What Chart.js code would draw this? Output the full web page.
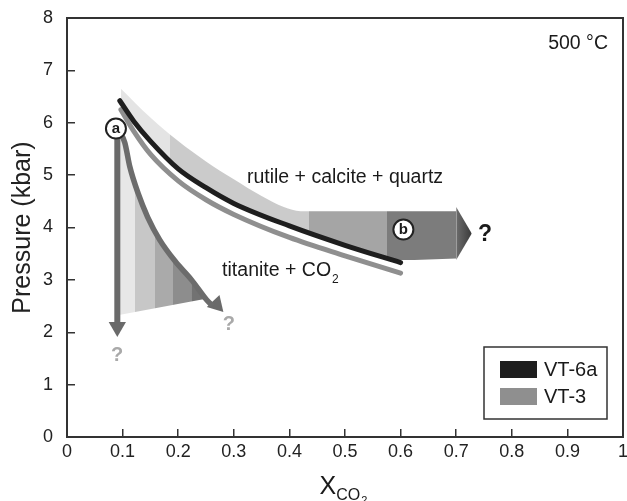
<!DOCTYPE html>
<html>
<head>
<meta charset="utf-8">
<script src="https://cdn.jsdelivr.net/npm/chart.js@4.4.1/dist/chart.umd.min.js"></script>
<style>
html,body{margin:0;padding:0;background:#fff;}
#wrap{width:627px;height:501px;position:relative;}
</style>
</head>
<body>
<div id="wrap"><canvas id="c" width="627" height="501"></canvas></div>
<script>
// ---------- data ----------
const xTicks = [0, 0.1, 0.2, 0.3, 0.4, 0.5, 0.6, 0.7, 0.8, 0.9, 1];
const xTickLabels = ['0', '0.1', '0.2', '0.3', '0.4', '0.5', '0.6', '0.7', '0.8', '0.9', '1'];
const yTicks = [0, 1, 2, 3, 4, 5, 6, 7, 8];
const yTickLabels = ['0', '1', '2', '3', '4', '5', '6', '7', '8'];

const seriesNames = ['VT-6a', 'VT-3'];
const vt6aX = [0.095, 0.12, 0.15, 0.2, 0.25, 0.3, 0.4, 0.5, 0.6];
const vt6aY = [6.42, 6.03, 5.65, 5.12, 4.76, 4.46, 4.03, 3.66, 3.33];
const vt3X = [0.097, 0.12, 0.15, 0.2, 0.25, 0.3, 0.4, 0.5, 0.6];
const vt3Y = [6.25, 5.84, 5.40, 4.89, 4.53, 4.25, 3.81, 3.46, 3.13];

// reaction arrow (a) -> titanite + CO2
const arrowCurveX = [0.094, 0.104, 0.113, 0.128, 0.145, 0.167, 0.195, 0.224, 0.251, 0.262];
const arrowCurveY = [5.85, 5.62, 5.16, 4.65, 4.20, 3.76, 3.35, 3.00, 2.62, 2.50];
// vertical arrow from (a)
const shaftX = [0.0905, 0.0905];
const shaftY = [5.85, 2.15];
// arrow head centres
const headX = [0.0905, 0.269];
const headY = [2.10, 2.527];
// striped field under the curved arrow (lower edge)
const fieldBottomX = [0.093, 0.245];
const fieldBottomY = [2.33, 2.63];
const fieldStripeX = [0.093, 0.122, 0.158, 0.191, 0.224, 0.262];

// broad band along the curve -> horizontal arrow to (b)
const bandTopX = [0.097, 0.15, 0.2, 0.25, 0.3, 0.35, 0.39, 0.42, 0.70];
const bandTopY = [6.65, 6.10, 5.65, 5.26, 4.92, 4.60, 4.39, 4.31, 4.31];
const bandBottomX = [0.095, 0.12, 0.15, 0.2, 0.25, 0.3, 0.4, 0.5, 0.6, 0.70];
const bandBottomY = [6.42, 6.03, 5.65, 5.12, 4.76, 4.46, 4.03, 3.66, 3.38, 3.41];
const bandStopX = [0.095, 0.185, 0.435, 0.575, 0.70];
const bigHeadX = [0.70, 0.728];
const bigHeadTopY = [4.39, 3.885];
const bigHeadBottomY = [3.38, 3.885];

// circled points
const markerX = [0.088, 0.605];
const markerY = [5.89, 3.96];
const markerLabels = ['a', 'b'];

// text labels
const noteTexts = ['rutile + calcite + quartz', 'titanite + CO', '500 °C'];
const noteSubs = ['', '2', ''];
const noteX = [0.5, 0.279, 0.973];
const noteY = [4.96, 3.17, 7.52];
const questionX = [0.09, 0.291, 0.752];
const questionY = [1.56, 2.14, 3.87];

// ---------- rendering ----------
const FONT = "'Liberation Sans', Arial, Helvetica, sans-serif";
Chart.defaults.font.family = FONT;
Chart.defaults.color = '#222';

const pts = (xs, ys) => xs.map((x, i) => ({x, y: ys[i]}));

function stripeFill(stops, colors) {
  return (c) => {
    const ch = c.chart;
    const sx = ch.scales && ch.scales.x;
    if (!ch.chartArea || !sx) return colors[0];
    const p0 = sx.getPixelForValue(stops[0]);
    const p1 = sx.getPixelForValue(stops[stops.length - 1]);
    const g = ch.ctx.createLinearGradient(p0, 0, p1, 0);
    for (let i = 0; i < colors.length; i++) {
      const a = (sx.getPixelForValue(stops[i]) - p0) / (p1 - p0);
      const b = (sx.getPixelForValue(stops[i + 1]) - p0) / (p1 - p0);
      g.addColorStop(Math.max(0, Math.min(1, a)), colors[i]);
      g.addColorStop(Math.max(0, Math.min(1, b - 0.0005)), colors[i]);
    }
    return g;
  };
}
function headFill(c) {
  const ch = c.chart;
  const sx = ch.scales && ch.scales.x;
  if (!ch.chartArea || !sx) return '#606060';
  const g = ch.ctx.createLinearGradient(sx.getPixelForValue(bigHeadX[0]), 0, sx.getPixelForValue(bigHeadX[1]), 0);
  g.addColorStop(0, '#6c6c6c');
  g.addColorStop(1, '#3a3a3a');
  return g;
}

const hidden = {borderWidth: 0, pointRadius: 0, fill: false, borderColor: 'rgba(0,0,0,0)'};

const datasets = [
  { // 0 circled markers
    label: 'markers', data: pts(markerX, markerY), showLine: false, order: 0,
    pointRadius: 10, pointBackgroundColor: '#ffffff', pointBorderColor: '#222', pointBorderWidth: 2
  },
  { // 1 VT-6a
    label: seriesNames[0], data: pts(vt6aX, vt6aY), order: 2,
    borderColor: '#1e1e1e', backgroundColor: '#1e1e1e', borderWidth: 5, pointRadius: 0,
    cubicInterpolationMode: 'monotone', borderCapStyle: 'round'
  },
  { // 2 VT-3
    label: seriesNames[1], data: pts(vt3X, vt3Y), order: 3,
    borderColor: '#8f8f8f', backgroundColor: '#8f8f8f', borderWidth: 5, pointRadius: 0,
    cubicInterpolationMode: 'monotone', borderCapStyle: 'round'
  },
  { // 3 curved arrow
    label: 'arrow', data: pts(arrowCurveX, arrowCurveY), order: 4,
    borderColor: '#6c6c6c', borderWidth: 5.5, pointRadius: 0, cubicInterpolationMode: 'monotone'
  },
  { // 4 vertical shaft
    label: 'shaft', data: pts(shaftX, shaftY), order: 4,
    borderColor: '#6a6a6a', borderWidth: 6, pointRadius: 0
  },
  { // 5 arrow heads
    label: 'heads', data: pts(headX, headY), showLine: false, order: 4,
    pointStyle: 'triangle', pointRadius: 10, pointRotation: [180, 137],
    pointBackgroundColor: '#6a6a6a', pointBorderWidth: 0
  },
  { // 6 striped field (fills up to the curved arrow)
    label: 'field', data: pts(fieldBottomX, fieldBottomY), order: 7,
    borderWidth: 0, pointRadius: 0, borderColor: 'rgba(0,0,0,0)',
    fill: 3, backgroundColor: stripeFill(fieldStripeX, ['#e7e7e7', '#c7c7c7', '#aaaaaa', '#8d8d8d', '#727272'])
  },
  { // 7 big head top
    label: 'headTop', data: pts(bigHeadX, bigHeadTopY), order: 8,
    borderWidth: 0, pointRadius: 0, borderColor: 'rgba(0,0,0,0)',
    fill: 8, backgroundColor: headFill
  },
  Object.assign({label: 'headBottom', data: pts(bigHeadX, bigHeadBottomY), order: 9}, hidden),
  { // 9 band top
    label: 'bandTop', data: pts(bandTopX, bandTopY), order: 10,
    borderWidth: 0, pointRadius: 0, borderColor: 'rgba(0,0,0,0)', cubicInterpolationMode: 'monotone',
    fill: 10, backgroundColor: stripeFill(bandStopX, ['#e4e4e4', '#cbcbcb', '#a5a5a5', '#7c7c7c'])
  },
  Object.assign({label: 'bandBottom', data: pts(bandBottomX, bandBottomY), order: 11, cubicInterpolationMode: 'monotone'}, hidden)
];

const decor = {
  id: 'decor',
  afterDraw(chart) {
    const ctx = chart.ctx;
    const ca = chart.chartArea;
    const sx = chart.scales.x, sy = chart.scales.y;
    ctx.save();
    // frame
    ctx.strokeStyle = '#333';
    ctx.lineWidth = 2;
    ctx.strokeRect(ca.left, ca.top, ca.right - ca.left, ca.bottom - ca.top);

    // marker letters
    ctx.fillStyle = '#1a1a1a';
    ctx.font = 'bold 15px ' + FONT;
    ctx.textAlign = 'center';
    ctx.textBaseline = 'middle';
    markerLabels.forEach((t, i) => {
      ctx.fillText(t, sx.getPixelForValue(markerX[i]), sy.getPixelForValue(markerY[i]) + 0.5);
    });

    // notes
    ctx.fillStyle = '#1a1a1a';
    noteTexts.forEach((t, i) => {
      const px = sx.getPixelForValue(noteX[i]);
      const py = sy.getPixelForValue(noteY[i]);
      ctx.font = '19.5px ' + FONT;
      ctx.textBaseline = 'middle';
      if (i === 0) ctx.textAlign = 'center';
      else if (i === 1) ctx.textAlign = 'left';
      else ctx.textAlign = 'right';
      ctx.fillText(t, px, py);
      if (noteSubs[i]) {
        const w = ctx.measureText(t).width;
        ctx.font = '12px ' + FONT;
        ctx.textAlign = 'left';
        ctx.fillText(noteSubs[i], px + w + 1, py + 9);
      }
    });

    // question marks
    ctx.textAlign = 'center';
    ctx.textBaseline = 'middle';
    questionX.forEach((x, i) => {
      const last = i === questionX.length - 1;
      ctx.font = 'bold ' + (last ? 23 : 20) + 'px ' + FONT;
      ctx.fillStyle = last ? '#1a1a1a' : '#a9a9a9';
      ctx.fillText('?', sx.getPixelForValue(x), sy.getPixelForValue(questionY[i]));
    });

    // legend
    const bx = ca.right - 139, by = ca.bottom - 90, bw = 123, bh = 72;
    ctx.fillStyle = '#fff';
    ctx.fillRect(bx, by, bw, bh);
    ctx.strokeStyle = '#333';
    ctx.lineWidth = 1.5;
    ctx.strokeRect(bx, by, bw, bh);
    ctx.font = '20px ' + FONT;
    ctx.textAlign = 'left';
    ctx.textBaseline = 'middle';
    [1, 2].forEach((di, k) => {
      const ds = chart.data.datasets[di];
      const cy = by + 22.5 + k * 27;
      ctx.fillStyle = ds.borderColor;
      ctx.fillRect(bx + 16, cy - 8.5, 37, 17);
      ctx.fillStyle = '#1a1a1a';
      ctx.fillText(ds.label, bx + 60, cy + 1);
    });

    // x axis title X_CO2
    const cx = (ca.left + ca.right) / 2;
    ctx.textBaseline = 'alphabetic';
    ctx.textAlign = 'left';
    ctx.font = '25px ' + FONT;
    const wX = ctx.measureText('X').width;
    ctx.font = '16px ' + FONT;
    const wCO = ctx.measureText('CO').width;
    ctx.font = '11px ' + FONT;
    const w2 = ctx.measureText('2').width;
    let x0 = cx - (wX + wCO + w2) / 2 - 2;
    ctx.fillStyle = '#1a1a1a';
    ctx.font = '25px ' + FONT;
    ctx.fillText('X', x0, 494);
    ctx.font = '16px ' + FONT;
    ctx.fillText('CO', x0 + wX, 500);
    ctx.font = '11px ' + FONT;
    ctx.fillText('2', x0 + wX + wCO + 1, 504);
    ctx.restore();
  }
};

const noPad = s => { s.paddingTop = 0; s.paddingBottom = 0; s.paddingLeft = 0; s.paddingRight = 0; };

new Chart(document.getElementById('c'), {
  type: 'line',
  data: {datasets},
  options: {
    responsive: false,
    animation: false,
    devicePixelRatio: 1,
    events: [],
    layout: {autoPadding: false, padding: {left: 0, right: 4, top: 18, bottom: 0}},
    plugins: {legend: {display: false}, tooltip: {enabled: false}},
    scales: {
      x: {
        type: 'linear', min: 0, max: 1,
        afterBuildTicks: s => { s.ticks = xTicks.map(v => ({value: v})); },
        ticks: {callback: (v, i) => xTickLabels[i], font: {size: 18}, color: '#222', padding: 12, maxRotation: 0, autoSkip: false},
        grid: {drawOnChartArea: false, tickLength: -8, color: '#333', lineWidth: 1.5},
        border: {color: '#333', width: 2},
        afterFit: s => { s.height = 64; noPad(s); }
      },
      y: {
        type: 'linear', min: 0, max: 8,
        afterBuildTicks: s => { s.ticks = yTicks.map(v => ({value: v})); },
        ticks: {callback: (v, i) => yTickLabels[i], font: {size: 18}, color: '#222', padding: 22, autoSkip: false},
        grid: {drawOnChartArea: false, tickLength: -8, color: '#333', lineWidth: 1.5},
        border: {color: '#333', width: 2},
        title: {display: true, text: 'Pressure (kbar)', font: {size: 25}, color: '#222', padding: {top: 8, bottom: 0}},
        afterFit: s => { s.width = 67; noPad(s); }
      }
    }
  },
  plugins: [decor]
});
</script>
</body>
</html>
